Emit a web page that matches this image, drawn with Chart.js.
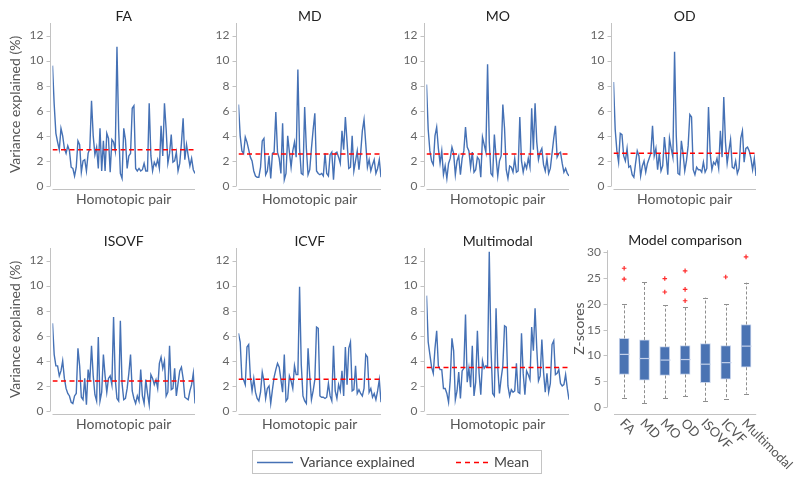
<!DOCTYPE html>
<html>
<head>
<meta charset="utf-8">
<script src="https://cdn.jsdelivr.net/npm/chart.js@4.4.1/dist/chart.umd.min.js"></script>
<style>
  body { margin: 0; background: #fff; width: 800px; height: 484px; position: relative; overflow: hidden; font-family: Lato, sans-serif; }
  canvas { position: absolute; }
  #legend { position: absolute; left: 252px; top: 450px; width: 290px; height: 24px; border: 1px solid #c4c4c4; box-sizing: border-box; font-size: 14px; color: #444; }
  #legend svg, #legend span { position: absolute; }
</style>
</head>
<body>
<canvas id="cFA" style="left:0px;top:0px" width="198" height="208"></canvas>
<canvas id="cMD" style="left:186px;top:0px" width="198" height="208"></canvas>
<canvas id="cMO" style="left:374px;top:0px" width="198" height="208"></canvas>
<canvas id="cOD" style="left:561px;top:0px" width="198" height="208"></canvas>
<canvas id="cISOVF" style="left:0px;top:225px" width="198" height="208"></canvas>
<canvas id="cICVF" style="left:186px;top:225px" width="198" height="208"></canvas>
<canvas id="cMultimodal" style="left:374px;top:225px" width="198" height="208"></canvas>
<canvas id="cBox" style="left:570px;top:225px" width="230" height="259"></canvas>

<div id="legend">
  <svg style="left:4px;top:10px" width="36" height="3"><line x1="0" y1="1.5" x2="36" y2="1.5" stroke="#4571b5" stroke-width="1.5"/></svg>
  <span style="left:47px;top:2px">Variance explained</span>
  <svg style="left:203px;top:10px" width="36" height="3"><line x1="0" y1="1.5" x2="36" y2="1.5" stroke="#ff0000" stroke-width="1.5" stroke-dasharray="5,4"/></svg>
  <span style="left:241px;top:2px">Mean</span>
</div>

<script>
// variance explained per homotopic pair (%)
const faValues = [9.6, 6.5, 4.2, 3.5, 2.9, 4.6, 4.0, 3.0, 2.6, 3.2, 2.8, 1.5, 1.4, 0.8, 1.5, 3.6, 3.3, 1.1, 2.0, 2.1,
  1.2, 2.6, 3.0, 6.8, 4.0, 2.5, 3.1, 1.4, 4.6, 1.2, 3.6, 1.2, 4.2, 3.8, 1.1, 3.7, 3.5, 2.8, 11.1, 4.5,
  1.0, 0.6, 4.6, 3.7, 1.4, 2.4, 2.6, 6.2, 6.4, 1.4, 1.2, 1.4, 1.2, 1.3, 1.8, 1.2, 1.2, 6.6, 2.4, 1.2,
  1.9, 1.6, 2.1, 1.4, 4.8, 2.4, 6.6, 4.5, 1.8, 2.6, 4.1, 1.9, 2.0, 2.7, 1.2, 1.8, 3.4, 5.4, 2.1, 3.3,
  2.4, 1.6, 2.2, 1.3, 1.0];
const mdValues = [6.5, 4.0, 2.8, 2.6, 3.9, 3.5, 2.9, 2.3, 2.0, 1.2, 0.8, 0.7, 0.7, 1.5, 3.6, 3.8, 0.9, 1.2, 2.4, 0.6,
  2.6, 2.7, 5.9, 2.7, 2.2, 1.0, 5.0, 0.5, 1.0, 4.0, 2.7, 1.5, 2.8, 3.5, 2.3, 9.3, 3.0, 1.0, 0.9, 6.3,
  3.0, 0.9, 1.3, 3.0, 4.5, 5.8, 1.2, 1.0, 0.9, 1.0, 0.8, 2.6, 1.0, 0.8, 2.5, 2.7, 0.5, 2.6, 2.7, 2.3,
  1.8, 4.4, 2.9, 5.5, 3.5, 1.4, 1.5, 4.0, 1.2, 2.0, 2.8, 1.3, 2.6, 4.4, 5.3, 3.4, 1.5, 2.1, 1.2, 1.7,
  2.1, 1.0, 1.4, 2.1, 0.7];
const moValues = [8.1, 4.5, 2.8, 2.0, 1.7, 4.0, 4.7, 3.0, 1.8, 2.8, 0.9, 1.6, 0.6, 1.8, 2.2, 3.1, 2.6, 0.9, 2.0, 2.4,
  0.9, 2.2, 2.8, 4.7, 3.1, 2.8, 1.5, 2.7, 1.1, 1.3, 2.3, 2.1, 0.7, 3.9, 3.3, 2.7, 9.7, 3.5, 1.0, 0.8,
  4.1, 2.3, 0.8, 2.0, 2.4, 6.5, 4.6, 1.3, 0.6, 1.6, 1.5, 1.1, 2.2, 1.1, 1.2, 5.5, 2.0, 1.1, 1.8, 1.4,
  2.2, 1.5, 6.2, 2.9, 6.6, 3.5, 2.1, 2.7, 3.0, 1.7, 1.2, 2.2, 1.0, 1.4, 2.6, 3.8, 4.8, 2.3, 2.6, 2.7,
  1.8, 1.1, 1.4, 1.0, 0.8];
const odValues = [8.3, 4.5, 2.8, 1.9, 4.2, 4.1, 2.4, 2.0, 3.0, 1.5, 1.6, 0.9, 0.7, 1.8, 2.8, 2.4, 0.8, 1.6, 2.0, 1.1,
  1.8, 2.2, 2.6, 4.8, 2.4, 3.0, 1.3, 2.6, 1.2, 1.6, 3.9, 2.5, 0.9, 3.8, 3.0, 2.3, 10.7, 4.0, 1.0, 0.9,
  3.6, 2.6, 1.2, 2.0, 3.2, 5.7, 5.5, 1.3, 0.9, 1.5, 1.3, 1.3, 1.1, 1.9, 1.1, 1.4, 6.3, 2.6, 1.3, 1.9,
  1.7, 2.2, 1.4, 4.4, 2.3, 7.1, 3.5, 1.8, 2.8, 3.7, 1.5, 1.4, 2.0, 1.0, 1.4, 3.8, 4.4, 1.9, 3.0, 3.1,
  2.8, 2.2, 1.3, 2.2, 0.8];
const isovfValues = [7.0, 4.5, 3.6, 3.6, 2.8, 3.2, 4.0, 2.6, 1.8, 1.4, 1.2, 0.7, 0.6, 1.2, 1.4, 5.0, 3.6, 1.1, 0.9, 2.6,
  0.5, 3.3, 2.4, 5.2, 2.8, 1.3, 0.8, 5.9, 0.8, 1.5, 4.5, 2.8, 1.5, 2.6, 2.8, 2.1, 7.5, 2.5, 1.0, 0.8,
  7.2, 2.2, 0.9, 1.0, 1.8, 3.0, 4.5, 1.6, 1.0, 0.6, 1.2, 0.8, 3.3, 1.2, 0.6, 2.5, 1.4, 0.5, 2.9, 2.6,
  2.1, 2.5, 1.8, 3.8, 4.3, 3.4, 4.0, 1.2, 1.5, 5.2, 1.7, 1.8, 3.4, 1.2, 2.2, 3.2, 3.5, 2.6, 1.1, 1.0,
  0.9, 1.6, 2.1, 3.0, 0.6];
const icvfValues = [6.2, 5.5, 2.6, 2.5, 2.1, 5.1, 5.3, 2.7, 1.6, 2.6, 1.5, 1.0, 0.8, 1.5, 3.1, 2.4, 1.0, 1.8, 2.0, 0.6,
  1.7, 2.7, 3.3, 3.8, 3.5, 2.5, 1.5, 4.5, 0.8, 1.0, 2.8, 2.4, 1.8, 3.6, 2.9, 2.9, 9.9, 3.7, 1.2, 0.8,
  0.6, 5.0, 2.8, 0.9, 1.6, 2.5, 6.7, 6.6, 1.2, 1.1, 1.1, 1.0, 1.1, 2.2, 1.2, 0.8, 5.2, 1.6, 1.0, 2.1,
  1.6, 3.2, 1.2, 5.1, 2.1, 5.0, 5.5, 1.6, 1.7, 3.6, 1.4, 1.7, 1.4, 1.2, 1.8, 4.5, 4.3, 1.5, 1.8, 1.1,
  1.4, 0.9, 1.6, 2.5, 0.7];
const multimodalValues = [9.2, 5.5, 4.5, 3.5, 3.0, 5.0, 6.4, 3.6, 3.3, 3.3, 1.8, 1.8, 1.4, 0.7, 2.5, 5.8, 4.8, 0.9, 1.6, 3.1,
  1.0, 3.2, 3.4, 7.7, 2.3, 3.4, 1.9, 5.2, 1.2, 2.3, 6.4, 3.0, 1.3, 4.0, 3.4, 3.6, 3.5, 12.7, 5.0, 1.4,
  1.2, 8.2, 3.5, 1.4, 2.6, 3.6, 6.8, 6.7, 2.0, 1.2, 1.7, 1.5, 1.6, 3.8, 1.5, 1.4, 6.2, 3.0, 1.3, 3.2,
  2.9, 2.5, 6.7, 4.8, 8.2, 5.0, 2.4, 2.8, 5.7, 3.1, 1.5, 3.0, 1.5, 2.2, 5.3, 5.6, 2.9, 3.0, 3.3, 2.2,
  2.0, 2.1, 2.9, 1.8, 0.9];

const panelTitles = ['FA', 'MD', 'MO', 'OD', 'ISOVF', 'ICVF', 'Multimodal'];
const panelSeries = [faValues, mdValues, moValues, odValues, isovfValues, icvfValues, multimodalValues];
const meanValues = [2.9, 2.55, 2.55, 2.62, 2.4, 2.53, 3.47];

// model comparison box plot (Z-scores)
const boxCategories = ['FA', 'MD', 'MO', 'OD', 'ISOVF', 'ICVF', 'Multimodal'];
const boxQ1 = [6.3, 5.2, 6.1, 6.3, 4.7, 5.4, 7.7];
const boxMedian = [10.2, 9.4, 9.1, 9.2, 8.3, 8.6, 11.8];
const boxQ3 = [13.3, 13.0, 11.7, 11.9, 12.3, 11.9, 16.0];
const whiskerLow = [1.8, 0.8, 1.7, 2.1, 1.2, 1.5, 2.6];
const whiskerHigh = [20.0, 24.2, 19.7, 19.3, 21.2, 19.9, 24.1];
const outlierCategories = ['FA', 'FA', 'MO', 'MO', 'OD', 'OD', 'OD', 'ICVF', 'Multimodal'];
const outlierValues = [24.8, 26.9, 22.3, 24.9, 20.6, 22.8, 26.4, 25.2, 29.1];

const FONT = 'Lato';
const AXIS_GREY = '#c2c2c2';

// matlab style detached axis lines
const axisLines = {
  id: 'axisLines',
  beforeDatasetsDraw(chart, args, opts) {
    const {ctx, chartArea} = chart;
    const ys = chart.scales.y;
    const g = opts.gap || 3;
    const ax = Math.round(chartArea.left - g) + 0.5;
    const by = Math.round(chartArea.bottom + g) + 0.5;
    ctx.save();
    ctx.strokeStyle = AXIS_GREY;
    ctx.lineWidth = 1;
    ctx.beginPath();
    ctx.moveTo(ax, chartArea.top);
    ctx.lineTo(ax, ys.getPixelForValue(0));
    ys.ticks.forEach(t => {
      const py = Math.round(ys.getPixelForValue(t.value)) + 0.5;
      ctx.moveTo(ax - 4, py);
      ctx.lineTo(ax, py);
    });
    ctx.moveTo(chartArea.left, by);
    ctx.lineTo(chartArea.right, by);
    ctx.stroke();
    ctx.restore();
  }
};

function lineChart(canvasId, title, values, mean, showYTitle) {
  const last = values.length - 1;
  return new Chart(document.getElementById(canvasId), {
    type: 'line',
    data: {
      datasets: [
        {
          label: 'Mean',
          data: [{x: 0, y: mean}, {x: last, y: mean}],
          borderColor: '#ff0000',
          borderDash: [5, 3.5],
          borderWidth: 1.5,
          pointRadius: 0
        },
        {
          label: 'Variance explained',
          data: values.map((v, i) => ({x: i, y: v})),
          borderColor: '#4571b5',
          borderWidth: 1.4,
          pointRadius: 0,
          tension: 0
        }
      ]
    },
    options: {
      responsive: false,
      animation: false,
      layout: {padding: {left: 0, right: 3, top: 0, bottom: 0}},
      plugins: {
        legend: {display: false},
        tooltip: {enabled: false},
        title: {
          display: true, text: title, fullSize: false, color: '#222',
          font: {family: FONT, size: 14, weight: 'normal', lineHeight: 1},
          padding: {top: 9, bottom: 0}
        },
        axisLines: {gap: 3}
      },
      scales: {
        x: {
          type: 'linear', min: 0, max: last,
          grid: {display: false, drawTicks: false},
          border: {display: false},
          ticks: {display: false},
          title: {
            display: true, text: 'Homotopic pair', color: '#555',
            font: {family: FONT, size: 14, lineHeight: 1.2},
            padding: {top: 0, bottom: 0}
          },
          afterFit(s) { s.height = 22; }
        },
        y: {
          min: 0, max: 13,
          grid: {display: false, drawTicks: false},
          border: {display: false},
          ticks: {stepSize: 2, includeBounds: false, padding: 9, color: '#666', font: {family: FONT, size: 12}},
          title: {
            display: showYTitle, text: 'Variance explained (%)', color: '#555',
            font: {family: FONT, size: 14, lineHeight: 1.2},
            padding: {top: 6.6, bottom: 0}
          },
          afterFit(s) { s.width = 52.5; }
        }
      }
    },
    plugins: [axisLines]
  });
}

panelTitles.forEach((t, i) => {
  lineChart('c' + t, t, panelSeries[i], meanValues[i], i === 0 || i === 4);
});

// whiskers, medians and rotated category labels for the box plot
const boxExtras = {
  id: 'boxExtras',
  afterDatasetsDraw(chart) {
    const {ctx} = chart;
    const xs = chart.scales.x, ys = chart.scales.y;
    ctx.save();
    boxCategories.forEach((c, i) => {
      const x = Math.round(xs.getPixelForValue(i)) + 0.5;
      ctx.strokeStyle = '#8e8e8e';
      ctx.lineWidth = 1;
      ctx.setLineDash([3, 2]);
      ctx.beginPath();
      ctx.moveTo(x, ys.getPixelForValue(boxQ3[i]));
      ctx.lineTo(x, ys.getPixelForValue(whiskerHigh[i]));
      ctx.moveTo(x, ys.getPixelForValue(boxQ1[i]));
      ctx.lineTo(x, ys.getPixelForValue(whiskerLow[i]));
      ctx.stroke();
      ctx.setLineDash([]);
      ctx.beginPath();
      [whiskerHigh[i], whiskerLow[i]].forEach(v => {
        const py = Math.round(ys.getPixelForValue(v)) + 0.5;
        ctx.moveTo(x - 2.5, py);
        ctx.lineTo(x + 2.5, py);
      });
      ctx.stroke();
      ctx.strokeStyle = '#c3d0ea';
      ctx.lineWidth = 1.2;
      ctx.beginPath();
      const my = ys.getPixelForValue(boxMedian[i]);
      ctx.moveTo(x - 5, my);
      ctx.lineTo(x + 5, my);
      ctx.stroke();
    });
    ctx.restore();
  },
  afterDraw(chart) {
    const {ctx, chartArea} = chart;
    const xs = chart.scales.x;
    ctx.save();
    ctx.fillStyle = '#555';
    ctx.font = '13px ' + FONT;
    ctx.textAlign = 'left';
    ctx.textBaseline = 'middle';
    boxCategories.forEach((c, i) => {
      ctx.save();
      ctx.translate(xs.getPixelForValue(i) - 2, chartArea.bottom + 14);
      ctx.rotate(Math.PI / 4);
      ctx.fillText(c, 0, 0);
      ctx.restore();
    });
    ctx.restore();
  }
};

new Chart(document.getElementById('cBox'), {
  type: 'bar',
  data: {
    labels: boxCategories,
    datasets: [
      {
        type: 'scatter',
        label: 'Outliers',
        data: outlierCategories.map((c, i) => ({x: c, y: outlierValues[i]})),
        pointStyle: 'cross',
        radius: 2.3,
        borderColor: '#ff2a2a',
        borderWidth: 1.2
      },
      {
        type: 'bar',
        label: 'IQR',
        data: boxCategories.map((c, i) => [boxQ1[i], boxQ3[i]]),
        backgroundColor: '#4a73b3',
        borderColor: '#c9d5ec',
        borderWidth: 1,
        borderSkipped: false,
        barThickness: 10
      }
    ]
  },
  options: {
    responsive: false,
    animation: false,
    layout: {padding: {left: 0, right: 43.8, top: 0, bottom: 0}},
    plugins: {
      legend: {display: false},
      tooltip: {enabled: false},
      title: {
        display: true, text: 'Model comparison', fullSize: false, color: '#222',
        font: {family: FONT, size: 14, weight: 'normal', lineHeight: 1},
        padding: {top: 8, bottom: 3.2}
      },
      axisLines: {gap: 7}
    },
    scales: {
      x: {
        type: 'category', offset: true,
        grid: {display: false, drawTicks: false},
        border: {display: false},
        ticks: {display: false},
        afterFit(s) { s.height = 77; }
      },
      y: {
        min: 0, max: 30.4,
        grid: {display: false, drawTicks: false},
        border: {display: false},
        ticks: {stepSize: 5, includeBounds: false, padding: 13, color: '#666', font: {family: FONT, size: 12}},
        title: {
          display: true, text: 'Z-scores', color: '#555',
          font: {family: FONT, size: 14, lineHeight: 1.2},
          padding: {top: 1.5, bottom: 0}
        },
        afterFit(s) { s.width = 44; }
      }
    }
  },
  plugins: [axisLines, boxExtras]
});
</script>
</body>
</html>
